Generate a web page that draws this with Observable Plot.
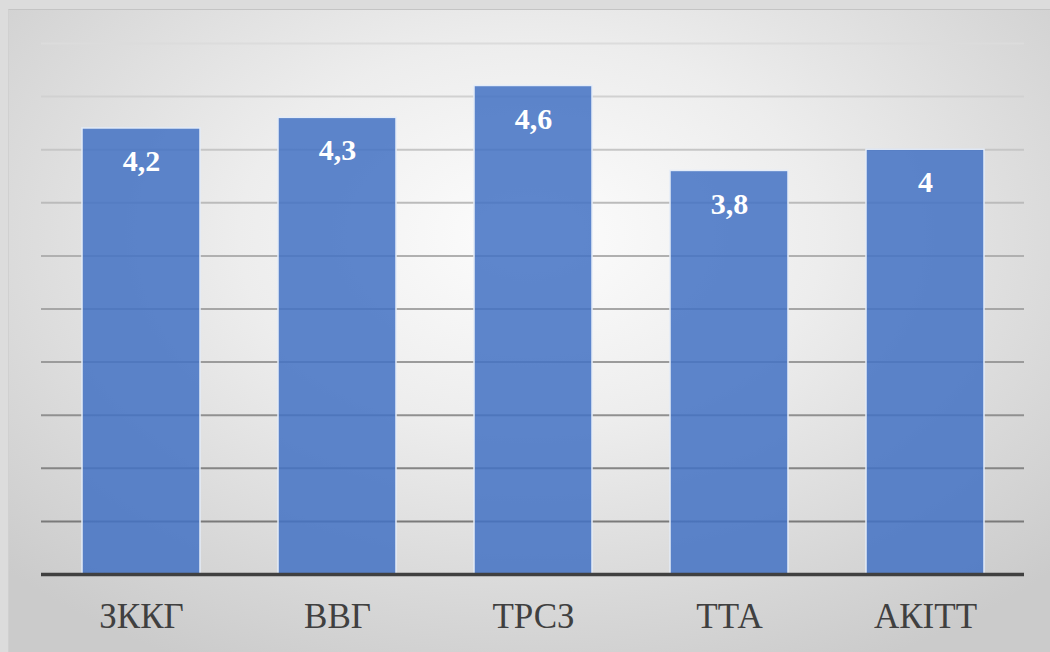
<!DOCTYPE html>
<html>
<head>
<meta charset="utf-8">
<script src="https://cdn.jsdelivr.net/npm/d3@7"></script>
<script src="https://cdn.jsdelivr.net/npm/@observablehq/plot@0.6"></script>
<style>
  html, body { margin: 0; padding: 0; }
  body { width: 1050px; height: 652px; overflow: hidden; background: #dcdcdc; position: relative; }
  #frame {
    position: absolute; left: 8px; top: 9px; width: 1042px; height: 643px;
    background: radial-gradient(ellipse 70% 75% at 50% 35%, #fdfdfd 0%, #ededed 40%, #d6d6d6 80%, #cbcbcb 100%);
    border-top: 1px solid #c4c4c4; border-left: 1px solid #d0d0d0;
  }
  #chart { position: absolute; left: 0; top: 0; }
</style>
</head>
<body>
<div id="frame"></div>
<div id="chart"></div>
<script>
const categories = ["ЗККГ", "ВВГ", "ТРСЗ", "ТТА", "АКІТТ"];
const values = [4.2, 4.3, 4.6, 3.8, 4];
const gridTicks = [0.5, 1, 1.5, 2, 2.5, 3, 3.5, 4, 4.5, 5];

const data = categories.map((c, i) => ({
  cat: c,
  value: values[i],
  label: String(values[i]).replace(".", ",")
}));

const gridColor = d3.interpolateRgb("#dcdcdc", "#7a7a7a");
const serif = "Tinos, 'Liberation Serif', 'DejaVu Serif', 'Noto Serif', 'Times New Roman', Times, serif";

const chart = Plot.plot({
  width: 1050,
  height: 652,
  marginLeft: 41,
  marginRight: 26,
  marginTop: 43,
  marginBottom: 78,
  style: { background: "transparent", fontFamily: serif, overflow: "visible" },
  x: { domain: categories, paddingInner: 0.4, paddingOuter: 0.2, axis: null },
  y: { domain: [0, 5], axis: null },
  marks: [
    Plot.ruleY(gridTicks, { stroke: d => gridColor((5 - d) / 4.5), strokeWidth: 2 }),
    Plot.barY(data, {
      x: "cat", y: "value",
      fill: "#4472C4", fillOpacity: 0.86,
      stroke: "#e4ecf8", strokeWidth: 1.5
    }),
    Plot.ruleY([0], { stroke: "#404040", strokeWidth: 3.5 }),
    Plot.text(data, {
      x: "cat", y: "value", text: "label", dy: 33,
      fill: "white", fontWeight: "bold", fontSize: 30, fontFamily: serif
    }),
    Plot.text(categories, {
      x: d => d, y: 0, text: d => d, dy: 42,
      fill: "#404040", fontSize: 35, fontFamily: serif
    })
  ]
});
chart.querySelectorAll("text").forEach(t => t.style.fontFamily = serif);
document.getElementById("chart").appendChild(chart);
</script>
</body>
</html>
